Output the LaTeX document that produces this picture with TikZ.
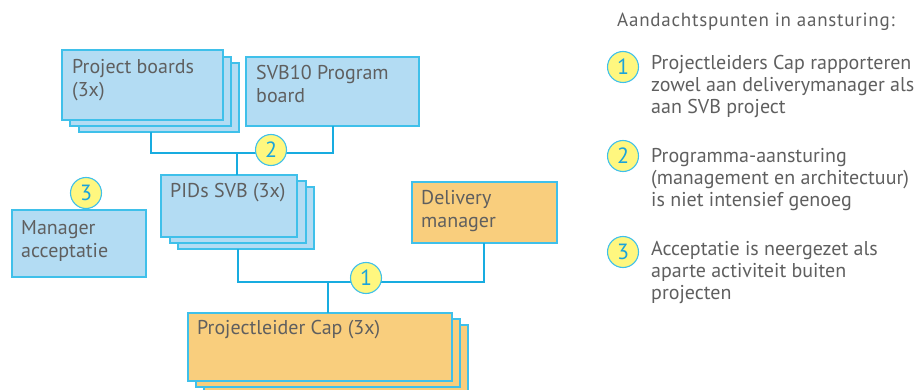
\documentclass[tikz,border=0pt]{standalone}
\usepackage{fontspec}
\setmainfont{PT Sans}
\definecolor{boxblue}{HTML}{B3DCF3}
\definecolor{edgecyan}{HTML}{3FC0EA}
\definecolor{linecyan}{HTML}{18ACE0}
\definecolor{boxorange}{HTML}{F9CE7D}
\definecolor{markyellow}{HTML}{FFF77F}
\definecolor{numcyan}{HTML}{1AA3DB}
\definecolor{textgrey}{HTML}{5F5F5F}
\tikzset{
  box/.style={draw=edgecyan, line width=1.2pt, anchor=north west, inner sep=0pt, outer sep=0pt},
  bluebox/.style={box, fill=boxblue},
  orangebox/.style={box, fill=boxorange},
  boxlabel/.style={anchor=north west, inner sep=0pt, text=textgrey, align=left, font=\fontsize{20}{23}\selectfont},
  conn/.style={draw=linecyan, line width=2pt},
  marker/.style={circle, draw=edgecyan, line width=1.1pt, fill=markyellow, minimum size=31pt, inner sep=0pt, text=numcyan, font=\fontsize{22}{22}\selectfont},
  legend/.style={anchor=north west, inner sep=0pt, text=textgrey, align=left, font=\fontsize{20}{22}\selectfont}
}
\begin{document}
\begin{tikzpicture}[x=1pt, y=-1pt]
\useasboundingbox (0,0) rectangle (915,390);
% Project boards stack
\node[bluebox, minimum width=160pt, minimum height=69pt] (pb3) at (79,63) {};
\node[bluebox, minimum width=161pt, minimum height=69pt] (pb2) at (70,57) {};
\node[bluebox, minimum width=161pt, minimum height=70pt] (pb) at (62,50) {};
\node[boxlabel] (pbt) at (72,59) {Project boards\\(3x)};
% SVB10
\node[bluebox, minimum width=173pt, minimum height=69pt] (svb) at (246,57) {};
\node[boxlabel] (svbt) at (256,65) {SVB10 Program\\board};
% PIDs stack
\node[bluebox, minimum width=136pt, minimum height=62pt] (pid3) at (178,187) {};
\node[bluebox, minimum width=136pt, minimum height=62pt] (pid2) at (170,181) {};
\node[bluebox, minimum width=136pt, minimum height=62pt] (pid) at (161,175) {};
\node[boxlabel] (pidt) at (170,183) {PIDs SVB (3x)};
% Manager acceptatie
\node[bluebox, minimum width=134pt, minimum height=67pt] (man) at (12,210) {};
\node[boxlabel] (mant) at (21,220) {Manager\\acceptatie};
% Delivery manager
\node[orangebox, minimum width=145pt, minimum height=61pt] (del) at (412,182) {};
\node[boxlabel] (delt) at (421,190) {Delivery\\manager};
% Projectleider stack
\node[orangebox, minimum width=264pt, minimum height=68pt] (pl3) at (204,325) {};
\node[orangebox, minimum width=264pt, minimum height=68pt] (pl2) at (196,319) {};
\node[orangebox, minimum width=264pt, minimum height=68pt] (pl) at (188,313) {};
\node[boxlabel] (plt) at (197,320) {Projectleider Cap (3x)};
% connectors
\coordinate (j2) at (237,153);
\coordinate (j1) at (328,282);
\draw[conn] (pb3.south -| 151,0) |- (j2) -| (svb.south);
\draw[conn] (j2) -- (pid.north -| j2);
\draw[conn] (pid3.south -| 238,0) |- (j1) -| (del.south -| 484,0);
\draw[conn] (j1) -- (pl.north -| j1);
% markers
\node[marker] (m2) at (271,150) {2};
\node[marker] (m1) at (366,278) {1};
\node[marker] (m3) at (86,193) {3};
% legend
\node[legend, font=\fontsize{19}{22}\selectfont\addfontfeature{LetterSpace=4}] (lt) at (617,13) {Aandachtspunten in aansturing:};
\node[marker] (l1) at (623,67) {1};
\node[legend] (l1t) at (651,55) {Projectleiders Cap rapporteren\\zowel aan deliverymanager als\\aan SVB project};
\node[marker] (l2) at (623,156) {2};
\node[legend] (l2t) at (651,148) {Programma-aansturing\\(management en architectuur)\\is niet intensief genoeg};
\node[marker] (l3) at (623,252) {3};
\node[legend] (l3t) at (651,241) {Acceptatie is neergezet als\\aparte activiteit buiten\\projecten};
\end{tikzpicture}
\end{document}
